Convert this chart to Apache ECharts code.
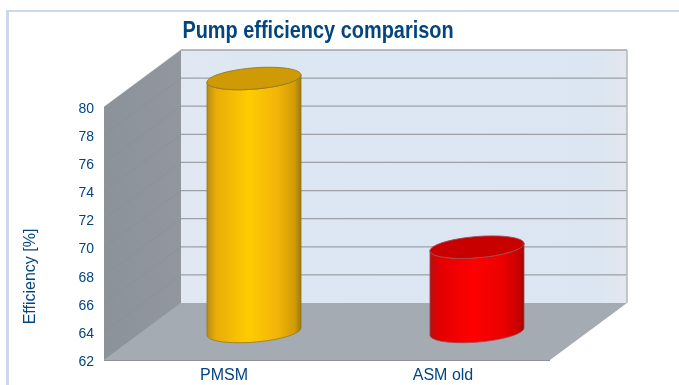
<!DOCTYPE html>
<html><head><meta charset="utf-8">
<style>html,body{margin:0;padding:0;background:#fff}#c{width:679px;height:385px}</style>
<script src="https://cdn.jsdelivr.net/npm/echarts@6/dist/echarts.min.js"></script>
</head><body><div id="c"></div>
<script>
const titleText = 'Pump efficiency comparison';
const yAxisName = 'Efficiency [%]';
const categories = ['PMSM', 'ASM old'];
const efficiency = [80, 68];
const yTicks = [62, 64, 66, 68, 70, 72, 74, 76, 78, 80];
const yMin = 62, yMax = 80, yStep = 2;

const FONT = '"Liberation Sans",Arial,sans-serif';
const NAVY = '#03457f';
const DEPTH = [77, -57];

const chart = echarts.init(document.getElementById('c'), null, {renderer: 'canvas'});

function poly(points, style, z2) {
  return {type: 'polygon', shape: {points}, style, z2: z2 || 0, silent: true};
}
function hLine(x1, y1, x2, y2, stroke, w, z2) {
  return {type: 'line', shape: {x1, y1, x2, y2}, style: {stroke, lineWidth: w}, z2: z2 || 1, silent: true};
}

function renderRoom(params, api) {
  const fb = api.coord([0, yMin]);
  const band = api.size([1, 0])[0];
  const xL = fb[0] - band / 2, xR = xL + band * categories.length;
  const yB = fb[1], yT = api.coord([0, yMax])[1];
  const dx = DEPTH[0], dy = DEPTH[1];
  const kids = [];
  kids.push({type: 'rect', shape: {x: xL + dx, y: yT + dy, width: xR - xL, height: yB - yT},
    style: {fill: new echarts.graphic.LinearGradient(0, 0, 1, 0, [
      {offset: 0, color: '#e2e8f2'}, {offset: .12, color: '#dde7f2'},
      {offset: .93, color: '#dbe6f2'}, {offset: 1, color: '#e3e6ef'}])}, silent: true});
  kids.push(poly([[xL, yT], [xL + dx, yT + dy], [xL + dx, yB + dy], [xL, yB]],
    {fill: new echarts.graphic.LinearGradient(0, 0, 1, 0, [
      {offset: 0, color: '#8c929a'}, {offset: 1, color: '#92979e'}])}, 1));
  kids.push(poly([[xL, yB], [xL + dx, yB + dy], [xR + dx, yB + dy], [xR, yB]], {fill: '#a5abb2'}, 1));
  yTicks.forEach(function (t) {
    const y = api.coord([0, t])[1];
    if (t > yMin) kids.push(hLine(xL + dx, y + dy, xR + dx, y + dy, t === yMax ? '#a2a4a8' : '#9da1a7', t === yMax ? 1.5 : 1.2, 2));
    kids.push(hLine(xL, y, xL + dx, y + dy, '#888d95', 0.5, 2));
  });
  kids.push(hLine(xR + dx, yT + dy, xR + dx, yB + dy, '#b4b7bb', 1.5, 2));
  kids.push(hLine(xL, yB + .5, xR, yB + .5, '#8b9097', 1.2, 3));
  return {type: 'group', children: kids};
}

const palettes = [
  {stops: ['#b58c14', '#e9ad08', '#ffcc00', '#f2b40a', '#d29b05', '#9a7610'], top: '#cf9a05', line: '#8f7a20'},
  {stops: ['#b51010', '#e20000', '#ff0000', '#ee0000', '#cc0000', '#a00000'], top: '#c80000', line: '#a04a50'}
];
const stopAt = [0, .1, .45, .75, .93, 1];

function renderBar(params, api) {
  const i = api.value(0), v = api.value(1);
  const base = api.coord([i, yMin]), top = api.coord([i, v]);
  const band = api.size([1, 0])[0];
  const cx = base[0] + DEPTH[0] / 2;
  const by = base[1] + DEPTH[1] / 2, ty = top[1] + DEPTH[1] / 2;
  // projected circle: x axis along the front plane, second axis along the depth direction
  const halfW = band * 0.2108, bY = -11.25, bX = -bY * DEPTH[0] / -DEPTH[1];
  const a = Math.sqrt(halfW * halfW - bX * bX);
  const t0 = Math.atan2(bX, a);
  const pt = function (cy, t) { return [cx + a * Math.cos(t) + bX * Math.sin(t), cy + bY * Math.sin(t)]; };
  const body = [], lid = [];
  for (let k = 0; k <= 40; k++) body.push(pt(by, t0 - Math.PI * k / 40));
  for (let k = 0; k <= 40; k++) body.push(pt(ty, t0 - Math.PI + Math.PI * k / 40));
  for (let k = 0; k < 80; k++) lid.push(pt(ty, 2 * Math.PI * k / 80));
  const p = palettes[i];
  return {type: 'group', children: [
    poly(body, {
      fill: new echarts.graphic.LinearGradient(0, 0, 1, 0,
        p.stops.map(function (c, n) { return {offset: stopAt[n], color: c}; })),
      stroke: p.line, lineWidth: .8}, 5),
    poly(lid, {fill: p.top, stroke: p.line, lineWidth: .9}, 6)
  ]};
}

chart.setOption({
  animation: false,
  backgroundColor: '#ffffff',
  grid: {left: 104, right: 129, top: 107, bottom: 25, containLabel: false},
  graphic: [
    {type: 'rect', shape: {x: 6, y: 10, width: 673, height: 2}, style: {fill: '#cdd8ee'}, silent: true},
    {type: 'rect', shape: {x: 6, y: 10, width: 3, height: 375}, style: {fill: '#cdd8ee'}, silent: true},
    {type: 'text', x: 318, y: 31, scaleX: 0.83, silent: true,
      style: {text: titleText, fontFamily: FONT, fontSize: 24, fontWeight: 'bold', fill: NAVY,
        textAlign: 'center', textVerticalAlign: 'middle', verticalAlign: 'middle'}}
  ],
  xAxis: {type: 'category', data: categories,
    axisLine: {show: false}, axisTick: {show: false}, splitLine: {show: false},
    axisLabel: {margin: 8, fontFamily: FONT, fontSize: 16, color: NAVY,
      formatter: function (v, i) { return '{l' + i + '|' + v + '}'; },
      rich: {
        l0: {fontFamily: FONT, fontSize: 16, color: NAVY, padding: [0, 0, 0, 17]},
        l1: {fontFamily: FONT, fontSize: 16, color: NAVY, padding: [0, 0, 0, 9]}
      }}},
  yAxis: {type: 'value', min: yMin, max: yMax, interval: yStep,
    name: yAxisName, nameLocation: 'middle', nameGap: 65, nameRotate: 90,
    nameTextStyle: {fontFamily: FONT, fontSize: 16, color: NAVY, padding: [0, 0, 0, -86]},
    axisLine: {show: false}, axisTick: {show: false}, splitLine: {show: false},
    axisLabel: {margin: 10, fontFamily: FONT, fontSize: 14, color: NAVY,
      formatter: '{n|{value}}',
      rich: {n: {fontFamily: FONT, fontSize: 14, color: NAVY, padding: [4, 0, 0, 0]}}}},
  series: [
    {type: 'custom', name: 'room', coordinateSystem: 'cartesian2d', silent: true, z: 1,
      data: [[0, yMin]], renderItem: renderRoom, clip: false},
    {type: 'custom', name: 'Efficiency', coordinateSystem: 'cartesian2d', silent: true, z: 2,
      data: categories.map(function (c, i) { return [i, efficiency[i]]; }),
      encode: {x: 0, y: 1}, renderItem: renderBar, clip: false}
  ]
});
</script></body></html>
